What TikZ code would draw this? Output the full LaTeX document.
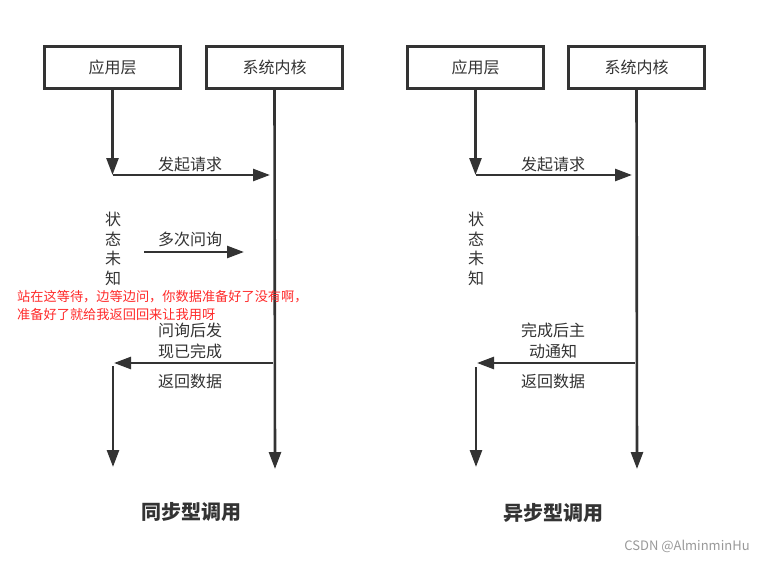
\documentclass[tikz,border=0pt]{standalone}
\usepackage{fontspec}
\setmainfont{Noto Sans CJK SC}
\newfontfamily\cjk{Noto Sans CJK SC}
\usetikzlibrary{arrows.meta}
\definecolor{ink}{HTML}{333333}
\definecolor{redtxt}{HTML}{FF2A2A}
\definecolor{graytxt}{HTML}{999999}
\tikzset{
  layerbox/.style={draw=ink, line width=2.2pt, minimum width=136pt, minimum height=42pt, inner sep=0pt, text=ink, font=\cjk\fontsize{16}{16}\selectfont},
  flow/.style={draw=ink, line width=2.6pt, -{Triangle[length=17pt,width=12pt]}},
  lbl/.style={text=ink, font=\cjk\fontsize{16}{21}\selectfont, inner sep=0pt, align=center},
  vtxt/.style={text=ink, font=\cjk\fontsize{16}{19.5}\selectfont, inner sep=0pt, align=center},
  ttl/.style={text=ink, font=\cjk\bfseries\fontsize{20}{20}\selectfont, inner sep=0pt},
  note/.style={text=redtxt, font=\cjk\fontsize{13.2}{18}\selectfont, inner sep=0pt, align=left, anchor=north west}
}
\begin{document}
\begin{tikzpicture}[x=1pt,y=-1pt]
\useasboundingbox (0,0) rectangle (774,560);
% ---------- left: synchronous ----------
\node[layerbox] (appL) at (112.5,67.5) {应用层};
\node[layerbox] (kerL) at (274.5,67.5) {系统内核};
\coordinate (aL1) at (112.5,175);
\coordinate (kL1) at (270,175);
\coordinate (kLend) at (275,469);
\coordinate (pLs) at (144,252);
\coordinate (pLe) at (244,252);
\coordinate (rLs) at (273,363);
\coordinate (rLe) at (114,363);
\coordinate (aL2) at (113,366);
\coordinate (aLend) at (113,467);
\draw[flow] (appL.south) -- (aL1);
\draw[flow] (aL1) -- (kL1);
\draw[flow] (kerL.south) -- (kLend);
\draw[flow] (pLs) -- (pLe);
\draw[flow] (rLs) -- (rLe);
\draw[flow] (aL2) -- (aLend);
\node[lbl] (reqL) at (190,164) {发起请求};
\node[vtxt] (unkL) at (113,249) {状\\态\\未\\知};
\node[lbl] (pollL) at (190,239) {多次问询};
\node[note] (noteL) at (17,290) {站在这等待，边等边问，你数据准备好了没有啊，\\准备好了就给我返回回来让我用呀};
\node[lbl] (doneL) at (190,341) {问询后发\\现已完成};
\node[lbl] (retL) at (190,381) {返回数据};
\node[ttl] (titleL) at (191,512) {同步型调用};
% ---------- right: asynchronous ----------
\node[layerbox] (appR) at (475.5,67.5) {应用层};
\node[layerbox] (kerR) at (636.5,67.5) {系统内核};
\coordinate (aR1) at (475.5,175);
\coordinate (kR1) at (632,175);
\coordinate (kRend) at (637,469);
\coordinate (rRs) at (635,363);
\coordinate (rRe) at (477,363);
\coordinate (aR2) at (476,367);
\coordinate (aRend) at (476,467);
\draw[flow] (appR.south) -- (aR1);
\draw[flow] (aR1) -- (kR1);
\draw[flow] (kerR.south) -- (kRend);
\draw[flow] (rRs) -- (rRe);
\draw[flow] (aR2) -- (aRend);
\node[lbl] (reqR) at (553,164) {发起请求};
\node[vtxt] (unkR) at (476,249) {状\\态\\未\\知};
\node[lbl] (doneR) at (553,341) {完成后主\\动通知};
\node[lbl] (retR) at (553,381) {返回数据};
\node[ttl] (titleR) at (553,513) {异步型调用};
\node[text=graytxt, font=\cjk\fontsize{13}{13}\selectfont, inner sep=0pt] (mark) at (687,546) {CSDN @AlminminHu};
\end{tikzpicture}
\end{document}
